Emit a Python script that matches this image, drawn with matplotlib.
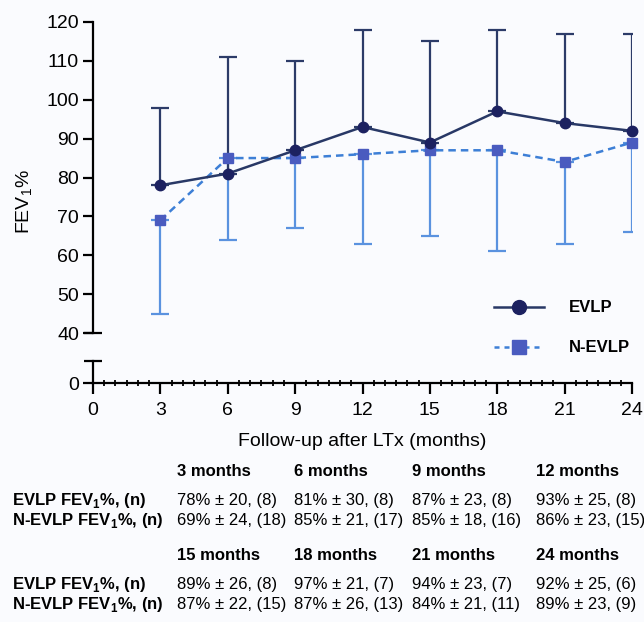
import numpy as np
import matplotlib
matplotlib.use('Agg')
import matplotlib.pyplot as plt
from matplotlib.lines import Line2D

plt.rcParams['font.family'] = ['Liberation Sans', 'DejaVu Sans']
plt.rcParams['mathtext.fontset'] = 'custom'
plt.rcParams['mathtext.rm'] = 'Liberation Sans'
plt.rcParams['mathtext.bf'] = 'Liberation Sans:bold'

months = [3, 6, 9, 12, 15, 18, 21, 24]
evlp_mean = [78, 81, 87, 93, 89, 97, 94, 92]
evlp_sd = [20, 30, 23, 25, 26, 21, 23, 25]
evlp_n = [8, 8, 8, 8, 8, 7, 7, 6]
nevlp_mean = [69, 85, 85, 86, 87, 87, 84, 89]
nevlp_sd = [24, 21, 18, 23, 22, 26, 21, 23]
nevlp_n = [18, 17, 16, 15, 15, 13, 11, 9]

navy = '#1c2160'
navy_line = '#283866'
blue_mk = '#4a5bbf'
blue_line = '#3d7fd6'
blue_err = '#5a92df'
W, H = 644, 622

fig = plt.figure(figsize=(W / 100, H / 100), dpi=100, facecolor='#fafbfe')

def fx(px):
    return px / W

def fy(py):
    return 1 - py / H

x0, x1 = 93, 632
ax = fig.add_axes([fx(x0), fy(333), fx(x1 - x0), (333 - 22) / H])
axl = fig.add_axes([fx(x0), fy(383), fx(x1 - x0), (383 - 361) / H])
for a in (ax, axl):
    a.set_facecolor('none')
    a.set_xlim(0, 24)
    for s in ('top', 'right'):
        a.spines[s].set_visible(False)
    a.spines['left'].set_linewidth(1.6)

# upper panel
ax.set_ylim(40, 120)
ax.spines['bottom'].set_visible(False)
ax.set_xticks([])
ax.set_yticks(np.arange(40, 121, 10))
ax.tick_params(axis='y', length=7, width=1.6, labelsize=14, pad=3)

ax.errorbar(months, nevlp_mean, yerr=[nevlp_sd, np.zeros(len(months))], fmt='none',
            ecolor=blue_err, elinewidth=1.6, capsize=6.5, capthick=1.6, zorder=2)
ax.errorbar(months, evlp_mean, yerr=[np.zeros(len(months)), evlp_sd], fmt='none',
            ecolor='#2c3b68', elinewidth=1.6, capsize=6.5, capthick=1.6, zorder=2)
ax.plot(months, nevlp_mean, ls=(0, (3, 2)), lw=1.8, color=blue_line, marker='s', ms=7,
        mfc=blue_mk, mec=blue_mk, zorder=3, clip_on=False)
ax.plot(months, evlp_mean, ls='-', lw=1.8, color=navy_line, marker='o', ms=7.5,
        mfc=navy, mec=navy, zorder=4, clip_on=False)
ax.plot([0], [40], marker='_', ms=13, mew=1.6, color='black', clip_on=False)

handles = [Line2D([], [], color=navy_line, lw=1.8, marker='o', ms=10, mfc=navy, mec=navy),
           Line2D([], [], color=blue_line, lw=1.8, ls=(0, (2, 2)), marker='s', ms=10,
                  mfc=blue_mk, mec=blue_mk)]
fig.legend(handles, ['EVLP', 'N-EVLP'], loc='upper left', bbox_to_anchor=(fx(486), fy(292)),
           frameon=False, borderpad=0, handlelength=3.0, handletextpad=1.5,
           labelspacing=1.5, prop={'size': 12, 'weight': 'bold'})

# lower panel
axl.set_ylim(0, 5.7)
axl.set_yticks([0])
axl.tick_params(axis='y', length=7, width=1.6, labelsize=14, pad=3)
axl.spines['bottom'].set_linewidth(1.6)
axl.set_xticks(np.arange(0, 25, 3))
axl.set_xticks(np.arange(0, 24.01, 0.5), minor=True)
axl.tick_params(axis='x', which='major', length=8, width=1.6, labelsize=14, pad=6)
axl.tick_params(axis='x', which='minor', length=4, width=1.3, direction='inout')
axl.plot([0], [5.7], marker='_', ms=13, mew=1.6, color='black', clip_on=False)
axl.set_xlabel('Follow-up after LTx (months)', fontsize=14, labelpad=10)

fig.text(fx(25), fy(202), 'FEV$_1$%', rotation=90, fontsize=14, ha='center', va='center')

# summary table
col_x = [177, 294, 412, 536]
blocks = [(0, 472), (4, 556)]
for start, hy in blocks:
    fig.text(fx(12), fy(hy + 28), r'EVLP FEV$_\mathbf{1}$%, (n)', fontsize=12,
             fontweight='bold', va='center')
    fig.text(fx(12), fy(hy + 49), r'N-EVLP FEV$_\mathbf{1}$%, (n)', fontsize=12,
             fontweight='bold', va='center')
    for j, cx in enumerate(col_x):
        i = start + j
        fig.text(fx(cx), fy(hy), f'{months[i]} months', fontsize=12, fontweight='bold',
                 va='center')
        fig.text(fx(cx), fy(hy + 28), f'{evlp_mean[i]}% ± {evlp_sd[i]}, ({evlp_n[i]})',
                 fontsize=12, va='center')
        fig.text(fx(cx), fy(hy + 49), f'{nevlp_mean[i]}% ± {nevlp_sd[i]}, ({nevlp_n[i]})',
                 fontsize=12, va='center')

fig.savefig('out.png', dpi=100, facecolor=fig.get_facecolor())
